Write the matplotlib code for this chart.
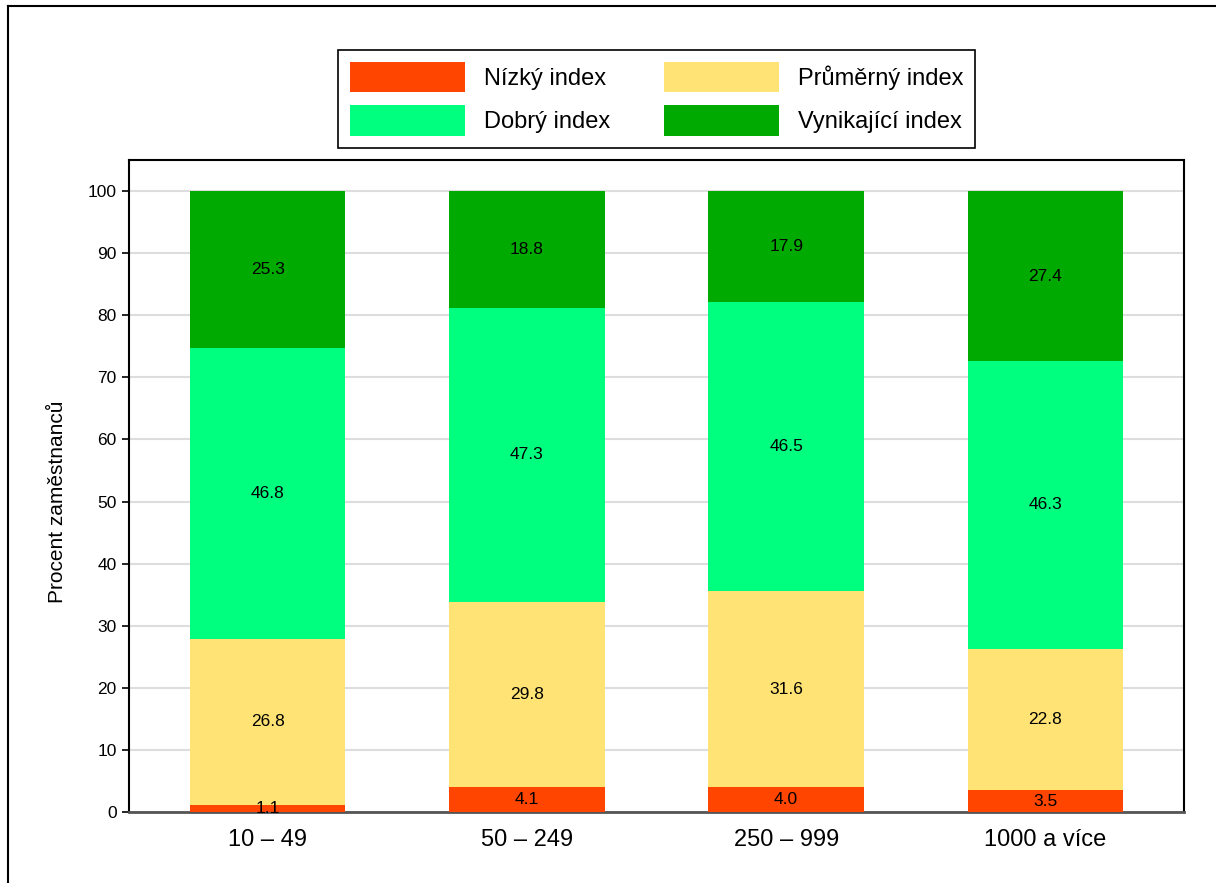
import matplotlib
matplotlib.use("Agg")
import matplotlib.pyplot as plt
import numpy as np
from matplotlib.lines import Line2D

plt.rcParams['font.family'] = ['Liberation Sans', 'DejaVu Sans']

categories = ["10 – 49", "50 – 249", "250 – 999", "1000 a více"]
series_names = ["Nízký index", "Průměrný index", "Dobrý index", "Vynikající index"]
nizky = [1.1, 4.1, 4.0, 3.5]
prumerny = [26.8, 29.8, 31.6, 22.8]
dobry = [46.8, 47.3, 46.5, 46.3]
vynikajici = [25.3, 18.8, 17.9, 27.4]
colors = ["#FF4500", "#FFE375", "#00FF7F", "#00AA00"]
yticks = list(range(0, 101, 10))

fig = plt.figure(figsize=(12.16, 8.83), dpi=100)
ax = fig.add_axes([0.1061, 0.0804, 0.8676, 0.7384])

x = np.arange(len(categories))
bottom = np.zeros(len(categories))
handles = []
for name, vals, c in zip(series_names, [nizky, prumerny, dobry, vynikajici], colors):
    vals = np.array(vals)
    bars = ax.bar(x, vals, 0.6, bottom=bottom, color=c, label=name, zorder=3, linewidth=0)
    for xi, b, v in zip(x, bottom, vals):
        ax.text(xi, b + v / 2, f"{v:.1f}", ha="center", va="center", fontsize=12.5, zorder=4)
    bottom += vals
    handles.append(bars)

ax.set_xlim(-0.535, 3.535)
ax.set_ylim(0, 105)
ax.set_yticks(yticks)
ax.set_xticks(x)
ax.set_xticklabels(categories, fontsize=17)
ax.tick_params(axis='y', labelsize=12.5, length=5, width=1.2, direction='out', pad=4)
ax.tick_params(axis='x', length=0, pad=12)
ax.yaxis.grid(True, color="#DDDDDD", linewidth=1.5, zorder=0)
ax.set_axisbelow(True)
ax.set_ylabel("Procent zaměstnanců", fontsize=15)
ax.yaxis.set_label_coords(-0.059, 50 / 105)
for s in ['left', 'top', 'right']:
    ax.spines[s].set_linewidth(1.5)
    ax.spines[s].set_color('black')
ax.spines['bottom'].set_linewidth(2.0)
ax.spines['bottom'].set_color('#555555')

# legend order: Nízký, Dobrý | Průměrný, Vynikající
leg = fig.legend([handles[0], handles[2], handles[1], handles[3]],
                 [series_names[0], series_names[2], series_names[1], series_names[3]],
                 ncol=2, loc='upper center', bbox_to_anchor=(0.54, 0.943),
                 fontsize=17, handlelength=4.87, handleheight=1.6, handletextpad=0.8,
                 columnspacing=2.3, labelspacing=0.55, fancybox=False, shadow=False,
                 framealpha=1, edgecolor='black', borderpad=0.5, borderaxespad=0)
leg.get_frame().set_linewidth(1.2)

# outer frame (left and top visible)
fig.add_artist(Line2D([8/1216, 8/1216], [0, 1 - 6/883], color='black', linewidth=1.5, transform=fig.transFigure))
fig.add_artist(Line2D([8/1216, 1], [1 - 6/883, 1 - 6/883], color='black', linewidth=1.5, transform=fig.transFigure))

fig.savefig("out.png", dpi=100)
